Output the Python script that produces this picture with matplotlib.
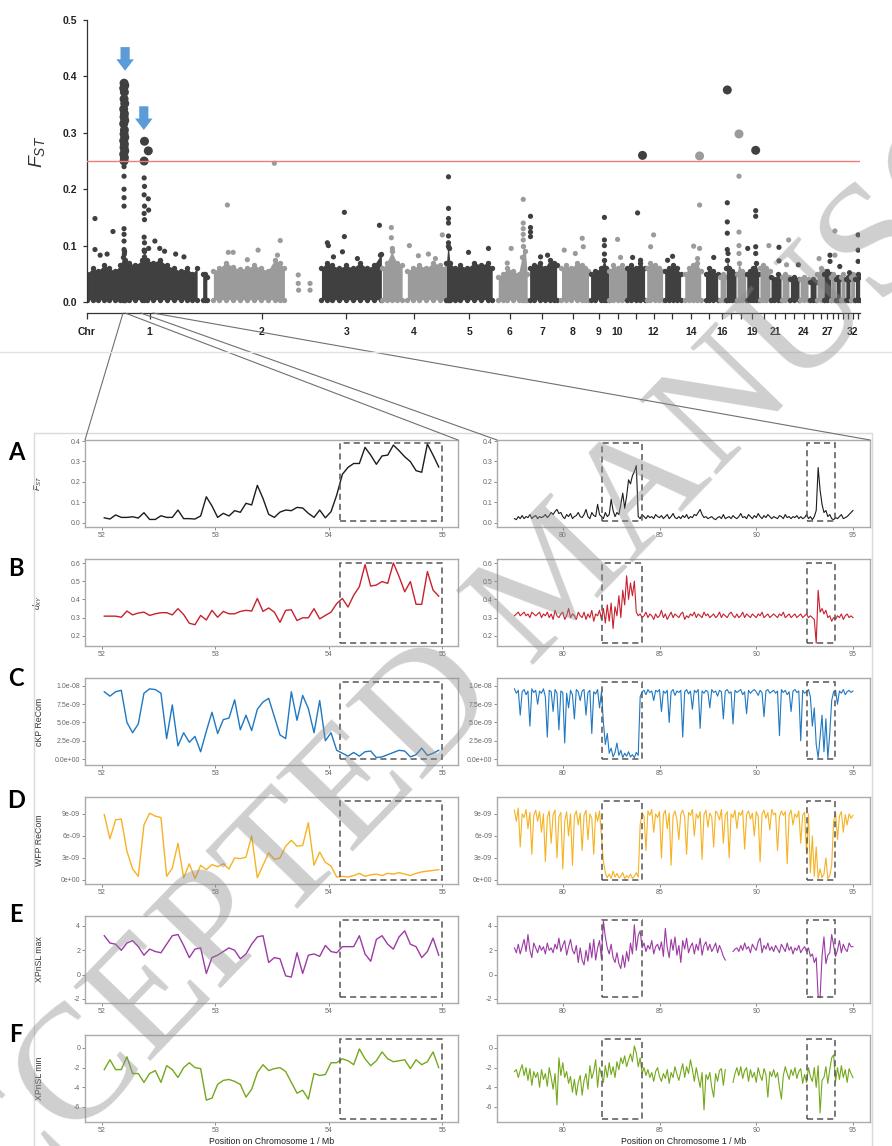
"""Genome-wide FST scan with zoomed chromosome-1 windows (panels A-F)."""

import matplotlib
matplotlib.use("Agg")
import matplotlib.pyplot as plt
from matplotlib.lines import Line2D
from matplotlib.patches import ConnectionPatch, Rectangle

nan = float("nan")
W, H = 892, 1146

plt.rcParams["font.family"] = ["Liberation Sans", "DejaVu Sans"]
plt.rcParams["mathtext.fontset"] = "custom"
plt.rcParams["mathtext.it"] = "Liberation Sans:italic"
plt.rcParams["mathtext.rm"] = "Liberation Sans"

# ---------------- genome-wide scan ----------------
CHROM_LEN_MB = [181, 143, 101, 94, 66, 51, 43, 45, 29, 26, 26, 26, 26, 29, 25,
                12, 14, 14, 19, 16, 16, 12, 14, 13, 13, 10, 10, 7, 7, 7, 7, 7, 7]
CHROM_LABELS_SHOWN = [1, 2, 3, 4, 5, 6, 7, 8, 9, 10, 12, 14, 16, 19, 21, 24, 27, 32]
FST_THRESHOLD = 0.25

# dense background SNP cloud: (chromosome, positions in Mb, upper edge of cloud)
BAND_SEGMENTS = [
    (1, [0, 8, 16, 24, 32, 40, 48, 52, 53.5, 55, 60, 70, 80, 83, 86, 95, 105, 115, 125, 135, 145, 152, 159],
        [0.05, 0.06, 0.055, 0.065, 0.06, 0.055, 0.065, 0.08, 0.09, 0.075, 0.07, 0.065, 0.075, 0.09, 0.075,
         0.07, 0.075, 0.065, 0.06, 0.055, 0.06, 0.05, 0.06]),
    (1, [167, 170, 173], [0.05, 0.05, 0.045]),
    (2, [1.5, 10, 20, 30, 40, 50, 60, 70, 80, 90, 97, 104],
        [0.055, 0.06, 0.07, 0.062, 0.058, 0.06, 0.065, 0.06, 0.055, 0.075, 0.07, 0.06]),
    (3, [14.5, 22, 30, 40, 50, 60, 70, 80, 90, 101],
        [0.06, 0.07, 0.065, 0.06, 0.065, 0.06, 0.07, 0.06, 0.065, 0.085]),
    (4, [1.5, 8, 15, 22, 30], [0.06, 0.07, 0.09, 0.07, 0.065]),
    (4, [37.5, 45, 55, 65, 75, 85, 94], [0.055, 0.06, 0.065, 0.06, 0.07, 0.065, 0.06]),
    (5, [0, 2, 3, 5, 12, 20, 30, 40, 50, 60, 66],
        [0.07, 0.1, 0.095, 0.07, 0.06, 0.065, 0.06, 0.07, 0.065, 0.07, 0.06]),
    (6, [8.7, 15, 22, 30, 38, 43, 45, 48, 50.5], [0.045, 0.05, 0.06, 0.055, 0.05, 0.08, 0.1, 0.09, 0.05]),
    (7, [3, 10, 18, 25, 32, 38, 42], [0.06, 0.065, 0.07, 0.06, 0.075, 0.07, 0.065]),
    (8, [6, 12, 20, 28, 35, 40, 45], [0.06, 0.065, 0.06, 0.07, 0.065, 0.06, 0.055]),
    (9, [3, 10, 18, 23, 26, 29], [0.05, 0.055, 0.06, 0.075, 0.06, 0.055]),
    (10, [0, 7, 14, 20, 26], [0.055, 0.065, 0.06, 0.065, 0.055]),
    (11, [0, 7, 13, 20, 26], [0.06, 0.065, 0.06, 0.07, 0.06]),
    (12, [3, 8, 15, 21, 26], [0.06, 0.07, 0.065, 0.06, 0.055]),
    (13, [3, 9, 15, 21, 26], [0.055, 0.06, 0.065, 0.06, 0.05]),
    (14, [6, 12, 18, 24, 29], [0.05, 0.06, 0.065, 0.07, 0.055]),
    (15, [7, 12, 18, 24.5], [0.05, 0.06, 0.055, 0.05]),
    (16, [3, 7, 11.5], [0.045, 0.05, 0.045]),
    (17, [0, 1.5, 4, 8, 14], [0.06, 0.075, 0.06, 0.055, 0.05]),
    (18, [1.5, 4.3, 8, 14], [0.05, 0.07, 0.055, 0.05]),
    (19, [1.5, 6, 11, 14.4, 18.8], [0.05, 0.055, 0.06, 0.07, 0.05]),
    (20, [1.5, 6, 11, 16], [0.06, 0.065, 0.06, 0.055]),
    (21, [1.5, 6, 11, 16], [0.045, 0.04, 0.05, 0.045]),
    (22, [1.5, 6, 11.5], [0.045, 0.05, 0.045]),
    (23, [1.5, 7, 14], [0.04, 0.045, 0.04]),
    (24, [1.5, 7, 13], [0.04, 0.045, 0.04]),
    (25, [3, 7, 11.5], [0.035, 0.04, 0.035]),
    (26, [0, 5, 10], [0.05, 0.06, 0.055]),
    (27, [0, 5, 10], [0.05, 0.055, 0.05]),
    (28, [0.5, 3.5, 6.5], [0.045, 0.05, 0.045]),
    (29, [0.5, 3.5, 6.5], [0.04, 0.045, 0.04]),
    (30, [0.5, 3.5, 6.5], [0.045, 0.05, 0.04]),
    (31, [0.5, 3.5, 6.5], [0.04, 0.045, 0.04]),
    (32, [0.5, 3.5, 6.5], [0.045, 0.05, 0.045]),
    (33, [0.5, 3.5, 6.5], [0.04, 0.05, 0.045]),
]
BAND_FLOOR = 0.004

# SNPs standing out of the cloud
OUT_CHR = ([1] * 5 + [1] * 21 + [1] * 10 + [1] * 12 + [1] * 4 + [1] * 5
           + [2] * 13 + [3] * 9 + [4] * 8 + [5] * 8 + [6] * 7 + [7] * 6 + [8] * 4 + [9] * 4
           + [10] * 2 + [11] * 4 + [12] * 2 + [13] * 2 + [14] * 5 + [15]
           + [17] * 6 + [18] * 5 + [19] * 6 + [20] + [21] * 2 + [22] * 2 + [23] + [26]
           + [27] * 2 + [28] * 2 + [29] + [31] + [33] * 3)
OUT_POS = ([11.5, 11.5, 19, 29, 37.5]
           + [53.5, 54.5, 53.0, 54.0, 53.5, 54.5, 53.0, 54.0, 53.5, 54.5, 53.0, 54.0, 53.5, 54.5,
              53.0, 54.0, 53.5, 54.5, 53.0, 54.0, 53.5]
           + [53.5, 53.5, 53.5, 53.5, 53.5, 53.5, 53.5, 53.5, 53.5, 54.0]
           + [83.0, 82.5, 82.5, 83.0, 82.5, 83.0, 82.5, 83.0, 82.5, 83.0, 82.5, 83.0]
           + [88.5, 88.5, 89, 89]
           + [98, 105, 112, 128, 140]
           + [21.7, 89.5, 98, 66, 23, 30, 94, 50.5, 124, 124, 124.5, 141, 141]
           + [23, 24.5, 47.6, 47.6, 44.8, 31.8, 66.4, 98.2, 99.6]
           + [14.4, 14.4, 15.9, 40.4, 53.4, 67.9, 78, 88]
           + [2.9, 2.9, 2.9, 2.9, 2.9, 2.9, 31.8, 60.6]
           + [44.8, 44.8, 44.8, 44.8, 44.8, 27.4, 21.7]
           + [4.3, 4.3, 4.3, 4.3, 28.9, 18.8]
           + [36, 37.5, 10, 26]
           + [23, 23, 23, 23]
           + [13, 17.3]
           + [15.9, 23, 8.7, 20.2]
           + [13, 8.7]
           + [14.4, 7.2]
           + [27.4, 27.4, 18.8, 27.4, 24.5]
           + [18.8]
           + [1.4, 1.4, 1.4, 1.4, 1.4, 2.5]
           + [4.3, 4.3, 4.3, 4.3, 4.3]
           + [14.4, 14.4, 14.4, 14.4, 14.4, 2.9]
           + [14.4]
           + [13, 13]
           + [11, 8]
           + [13]
           + [2.9]
           + [8.7, 8.7]
           + [5.8, 5.8]
           + [5.8]
           + [5.8]
           + [4.3, 4.3, 4.3])
OUT_FST = ([0.148, 0.093, 0.083, 0.085, 0.125]
           + [0.388, 0.384, 0.379, 0.372, 0.36, 0.352, 0.342, 0.334, 0.328, 0.322, 0.316, 0.305, 0.298,
              0.292, 0.286, 0.28, 0.274, 0.268, 0.262, 0.256, 0.25]
           + [0.24, 0.223, 0.2, 0.185, 0.17, 0.13, 0.12, 0.108, 0.093, 0.085]
           + [0.285, 0.25, 0.22, 0.205, 0.19, 0.17, 0.157, 0.146, 0.115, 0.105, 0.092, 0.08]
           + [0.268, 0.183, 0.163, 0.095]
           + [0.108, 0.095, 0.09, 0.085, 0.08]
           + [0.172, 0.246, 0.109, 0.092, 0.088, 0.088, 0.083, 0.075, 0.048, 0.033, 0.021, 0.033, 0.021]
           + [0.105, 0.1, 0.159, 0.116, 0.089, 0.08, 0.077, 0.136, 0.083]
           + [0.132, 0.114, 0.095, 0.1, 0.082, 0.085, 0.077, 0.119]
           + [0.222, 0.166, 0.148, 0.14, 0.117, 0.105, 0.088, 0.095]
           + [0.182, 0.14, 0.13, 0.12, 0.11, 0.095, 0.069]
           + [0.152, 0.132, 0.124, 0.116, 0.083, 0.08]
           + [0.113, 0.098, 0.092, 0.086]
           + [0.15, 0.11, 0.1, 0.085]
           + [0.111, 0.079]
           + [0.158, 0.26, 0.079, 0.074]
           + [0.119, 0.098]
           + [0.081, 0.074]
           + [0.259, 0.172, 0.099, 0.095, 0.077]
           + [0.079]
           + [0.376, 0.176, 0.142, 0.122, 0.093, 0.086]
           + [0.298, 0.223, 0.124, 0.1, 0.086]
           + [0.269, 0.162, 0.152, 0.098, 0.086, 0.095]
           + [0.1]
           + [0.097, 0.073]
           + [0.11, 0.066]
           + [0.066]
           + [0.077]
           + [0.083, 0.072]
           + [0.126, 0.083]
           + [0.063]
           + [0.052]
           + [0.119, 0.092, 0.072])

# blue arrows above the two chromosome-1 peaks (chr1 Mb, arrow top, arrow tip)
ARROW_POS = [55, 82]
ARROW_TOP = [0.452, 0.347]
ARROW_TIP = [0.41, 0.305]

# ---------------- zoomed windows on chromosome 1 ----------------
LEFT_MB = [52.02, 52.07, 52.12, 52.17, 52.22, 52.27, 52.32, 52.37, 52.42, 52.47,
           52.52, 52.57, 52.62, 52.67, 52.72, 52.77, 52.82, 52.87, 52.92, 52.97,
           53.02, 53.07, 53.12, 53.17, 53.22, 53.27, 53.32, 53.37, 53.42, 53.47,
           53.52, 53.57, 53.62, 53.67, 53.72, 53.77, 53.82, 53.87, 53.92, 53.97,
           54.02, 54.07, 54.12, 54.17, 54.22, 54.27, 54.32, 54.37, 54.42, 54.47,
           54.52, 54.57, 54.62, 54.67, 54.72, 54.77, 54.82, 54.87, 54.92, 54.97]

RIGHT_MB = [77.5, 77.6, 77.7, 77.8, 77.9,
            78.0, 78.1, 78.2, 78.3, 78.4, 78.5, 78.6, 78.7, 78.8, 78.9,
            79.0, 79.1, 79.2, 79.3, 79.4, 79.5, 79.6, 79.7, 79.8, 79.9,
            80.0, 80.1, 80.2, 80.3, 80.4, 80.5, 80.6, 80.7, 80.8, 80.9,
            81.0, 81.1, 81.2, 81.3, 81.4, 81.5, 81.6, 81.7, 81.8, 81.9,
            82.0, 82.1, 82.2, 82.3, 82.4, 82.5, 82.6, 82.7, 82.8, 82.9,
            83.0, 83.1, 83.2, 83.3, 83.4, 83.5, 83.6, 83.7, 83.8, 83.9,
            84.0, 84.1, 84.2, 84.3, 84.4, 84.5, 84.6, 84.7, 84.8, 84.9,
            85.0, 85.1, 85.2, 85.3, 85.4, 85.5, 85.6, 85.7, 85.8, 85.9,
            86.0, 86.1, 86.2, 86.3, 86.4, 86.5, 86.6, 86.7, 86.8, 86.9,
            87.0, 87.1, 87.2, 87.3, 87.4, 87.5, 87.6, 87.7, 87.8, 87.9,
            88.0, 88.1, 88.2, 88.3, 88.4, 88.5, 88.6, 88.7, 88.8, 88.9,
            89.0, 89.1, 89.2, 89.3, 89.4, 89.5, 89.6, 89.7, 89.8, 89.9,
            90.0, 90.1, 90.2, 90.3, 90.4, 90.5, 90.6, 90.7, 90.8, 90.9,
            91.0, 91.1, 91.2, 91.3, 91.4, 91.5, 91.6, 91.7, 91.8, 91.9,
            92.0, 92.1, 92.2, 92.3, 92.4, 92.5, 92.6, 92.7, 92.8, 92.9,
            93.0, 93.1, 93.2, 93.3, 93.4, 93.5, 93.6, 93.7, 93.8, 93.9,
            94.0, 94.1, 94.2, 94.3, 94.4, 94.5, 94.6, 94.7, 94.8, 94.9,
            95.0]

FST_L = [0.024, 0.018, 0.038, 0.026, 0.026, 0.029, 0.023, 0.049, 0.016, 0.016,
         0.034, 0.026, 0.026, 0.062, 0.02, 0.02, 0.018, 0.033, 0.127, 0.082,
         0.026, 0.046, 0.033, 0.059, 0.051, 0.095, 0.087, 0.183, 0.119, 0.041,
         0.026, 0.052, 0.062, 0.059, 0.075, 0.072, 0.046, 0.026, 0.062, 0.024,
         0.054, 0.135, 0.237, 0.271, 0.29, 0.29, 0.369, 0.331, 0.286, 0.327,
         0.331, 0.38, 0.353, 0.323, 0.299, 0.255, 0.247, 0.385, 0.331, 0.273]
FST_R = [0.02, 0.015, 0.03, 0.02, 0.035,
         0.02, 0.03, 0.025, 0.04, 0.02, 0.03, 0.035, 0.02, 0.03, 0.025,
         0.03, 0.04, 0.025, 0.035, 0.05, 0.04, 0.055, 0.065, 0.045, 0.05,
         0.03, 0.02, 0.04, 0.03, 0.045, 0.02, 0.03, 0.035, 0.05, 0.03,
         0.025, 0.04, 0.065, 0.03, 0.02, 0.05, 0.035, 0.03, 0.09, 0.04,
         0.03, 0.02, 0.05, 0.03, 0.04, 0.115, 0.06, 0.03, 0.05, 0.04,
         0.09, 0.145, 0.07, 0.13, 0.21, 0.19, 0.23, 0.25, 0.28, 0.03,
         0.02, 0.04, 0.03, 0.02, 0.035, 0.025, 0.03, 0.02, 0.04, 0.03,
         0.025, 0.035, 0.02, 0.03, 0.04, 0.02, 0.03, 0.045, 0.025, 0.02,
         0.03, 0.02, 0.035, 0.025, 0.04, 0.02, 0.03, 0.025, 0.04, 0.035,
         0.05, 0.065, 0.04, 0.025, 0.03, 0.02, 0.025, 0.03, 0.02, 0.015,
         0.025, 0.03, 0.02, 0.04, 0.02, 0.025, 0.03, 0.02, 0.035, 0.025,
         0.02, 0.03, 0.045, 0.025, 0.03, 0.02, 0.04, 0.03, 0.02, 0.035,
         0.025, 0.045, 0.03, 0.02, 0.035, 0.025, 0.04, 0.03, 0.02, 0.03,
         0.025, 0.02, 0.035, 0.03, 0.02, 0.04, 0.025, 0.03, 0.02, 0.03,
         0.025, 0.035, 0.02, 0.03, 0.02, 0.025, 0.04, 0.02, 0.03, 0.015,
         0.03, 0.06, 0.27, 0.16, 0.09, 0.05, 0.06, 0.03, 0.04, 0.02,
         0.015, 0.025, 0.02, 0.03, 0.04, 0.02, 0.025, 0.03, 0.04, 0.05,
         0.06]

DXY_L = [0.308, 0.308, 0.308, 0.302, 0.336, 0.315, 0.325, 0.33, 0.312, 0.321,
         0.327, 0.327, 0.315, 0.349, 0.317, 0.269, 0.261, 0.312, 0.287, 0.34,
         0.302, 0.334, 0.321, 0.321, 0.334, 0.34, 0.336, 0.405, 0.334, 0.353,
         0.33, 0.274, 0.34, 0.343, 0.284, 0.299, 0.299, 0.349, 0.293, 0.312,
         0.33, 0.377, 0.405, 0.358, 0.423, 0.47, 0.591, 0.473, 0.479, 0.498,
         0.488, 0.6, 0.526, 0.442, 0.498, 0.373, 0.373, 0.553, 0.451, 0.418]
DXY_R = [0.31, 0.32, 0.33, 0.31, 0.32,
         0.33, 0.31, 0.32, 0.30, 0.33, 0.32, 0.31, 0.32, 0.33, 0.30,
         0.32, 0.31, 0.33, 0.30, 0.32, 0.29, 0.34, 0.31, 0.30, 0.32,
         0.33, 0.29, 0.31, 0.35, 0.30, 0.32, 0.31, 0.29, 0.33, 0.31,
         0.30, 0.33, 0.29, 0.32, 0.30, 0.34, 0.28, 0.32, 0.31, 0.34,
         0.29, 0.35, 0.27, 0.37, 0.28, 0.38, 0.24, 0.36, 0.31, 0.42,
         0.30, 0.45, 0.37, 0.53, 0.40, 0.49, 0.42, 0.50, 0.33, 0.31,
         0.32, 0.30, 0.31, 0.33, 0.30, 0.32, 0.31, 0.29, 0.32, 0.30,
         0.31, 0.34, 0.30, 0.32, 0.29, 0.31, 0.33, 0.30, 0.32, 0.31,
         0.30, 0.32, 0.33, 0.29, 0.31, 0.30, 0.32, 0.31, 0.33, 0.30,
         0.32, 0.31, 0.30, 0.33, 0.31, 0.32, 0.30, 0.31, 0.32, 0.30,
         0.31, 0.33, 0.30, 0.32, 0.31, 0.30, 0.32, 0.33, 0.31, 0.30,
         0.32, 0.30, 0.31, 0.33, 0.30, 0.32, 0.31, 0.30, 0.32, 0.31,
         0.30, 0.32, 0.31, 0.33, 0.30, 0.31, 0.32, 0.30, 0.31, 0.32,
         0.31, 0.30, 0.32, 0.31, 0.33, 0.30, 0.31, 0.32, 0.30, 0.31,
         0.32, 0.30, 0.31, 0.32, 0.30, 0.31, 0.32, 0.30, 0.31, 0.30,
         0.29, 0.16, 0.45, 0.33, 0.35, 0.32, 0.34, 0.30, 0.31, 0.28,
         0.30, 0.29, 0.31, 0.30, 0.32, 0.29, 0.31, 0.32, 0.30, 0.31,
         0.30]

# recombination rates, in units of 1e-9
CKP_L = [9.2, 8.6, 9.2, 9.4, 5.0, 3.6, 4.8, 9.0, 9.6, 9.5,
         9.0, 2.8, 7.4, 1.8, 3.6, 2.3, 3.1, 1.0, 3.8, 6.4,
         3.5, 5.4, 5.6, 8.1, 4.0, 6.0, 3.9, 6.8, 7.8, 8.3,
         5.8, 3.3, 2.8, 9.2, 5.3, 8.7, 6.9, 3.6, 8.0, 2.5,
         3.6, 1.2, 0.8, 0.4, 0.9, 0.4, 1.0, 1.1, 0.2, 0.3,
         0.6, 0.9, 1.2, 1.1, 0.3, 0.6, 1.5, 0.5, 0.8, 1.2]
CKP_R = [9.6, 9.0, 9.4, 6.0, 9.2,
         9.5, 8.8, 9.3, 4.5, 9.6, 9.1, 9.4, 7.5, 9.3, 9.0,
         9.6, 8.5, 3.0, 9.4, 9.2, 6.5, 9.5, 9.0, 4.0, 9.3,
         9.1, 2.2, 9.0, 7.0, 9.4, 8.8, 5.5, 9.5, 9.2, 8.0,
         9.3, 9.5, 6.0, 9.1, 9.4, 3.5, 9.2, 8.9, 9.5, 7.0,
         9.2, 5.0, 2.0, 3.5, 0.8, 1.5, 0.3, 0.9, 2.2, 0.5,
         1.2, 0.2, 0.8, 0.4, 1.0, 0.3, 0.6, 0.2, 0.9, 0.5,
         8.5, 9.2, 9.4, 8.8, 9.5, 9.1, 9.3, 8.0, 9.4, 9.2,
         9.5, 6.5, 9.3, 9.0, 9.4, 5.0, 9.2, 9.5, 8.7, 9.3,
         9.1, 9.4, 3.0, 9.2, 9.5, 8.9, 9.3, 6.8, 9.4, 9.1,
         9.5, 4.2, 9.3, 9.0, 9.4, 9.2, 7.0, 9.5, 9.1, 9.3,
         8.6, 9.4, 9.2, 5.5, 9.3, 9.5, 9.0, 9.2, 4.8, 9.4,
         9.1, 9.3, 9.5, 8.8, 9.2, 6.2, 9.4, 9.0, 9.3, 9.5,
         9.2, 8.7, 9.4, 9.1, 5.8, 9.3, 9.5, 9.0, 9.2, 9.4,
         9.0, 9.3, 3.2, 9.5, 9.1, 9.4, 8.8, 9.2, 6.5, 9.3,
         9.5, 9.1, 9.3, 2.5, 9.4, 9.0, 9.2, 9.5, 8.5, 4.5,
         7.0, 2.0, 0.2, 3.0, 6.0, 1.0, 5.5, 0.1, 3.5, 8.0,
         9.2, 9.4, 7.5, 9.3, 9.0, 9.5, 8.8, 9.2, 9.4, 9.1,
         9.3]

WFP_L = [8.9, 5.6, 8.2, 8.3, 3.9, 1.5, 0.5, 7.5, 9.1, 8.7,
         8.5, 0.5, 1.6, 5.0, 0.3, 2.2, 0.2, 2.0, 1.4, 2.1,
         1.8, 2.2, 1.5, 3.0, 2.9, 3.1, 6.0, 0.3, 2.0, 3.7,
         2.8, 3.0, 4.6, 5.4, 4.6, 4.7, 7.8, 2.0, 3.8, 2.4,
         1.9, 0.4, 0.5, 0.4, 0.6, 0.9, 0.5, 0.7, 0.8, 0.6,
         0.9, 0.8, 1.0, 0.8, 0.6, 0.9, 1.1, 1.2, 1.3, 1.4]
WFP_R = [9.5, 8.0, 9.8, 4.5, 9.0,
         8.5, 9.6, 7.0, 9.2, 3.5, 8.8, 9.5, 8.0, 9.3, 6.5,
         9.0, 2.5, 8.5, 9.4, 5.0, 8.9, 9.5, 3.0, 8.6, 9.2,
         1.5, 8.0, 9.3, 6.0, 9.0, 2.0, 8.7, 9.4, 7.5, 9.1,
         4.0, 8.8, 9.5, 5.5, 9.0, 8.4, 3.5, 9.2, 8.0, 9.4,
         6.0, 2.5, 1.0, 0.3, 0.8, 0.2, 1.2, 0.4, 0.9, 0.3,
         0.5, 1.0, 0.2, 0.6, 0.3, 0.8, 0.2, 0.5, 1.0, 0.4,
         7.5, 9.2, 8.6, 4.0, 9.4, 8.8, 9.6, 6.5, 9.0, 8.5,
         9.3, 3.0, 8.9, 9.5, 7.0, 9.1, 2.0, 8.7, 9.4, 8.2,
         5.5, 9.0, 9.5, 8.6, 3.5, 9.2, 8.8, 9.6, 6.0, 9.0,
         8.4, 9.3, 2.8, 8.9, 9.5, 7.2, 9.1, 8.6, 4.5, 9.4,
         9.0, 8.2, 9.6, 5.0, 8.8, 9.3, 3.0, 9.0, 8.5, 9.5,
         7.0, 9.2, 8.8, 9.5, 4.2, 8.9, 9.4, 8.3, 9.1, 6.0,
         9.3, 8.7, 2.5, 9.0, 9.5, 8.4, 9.2, 6.8, 9.6, 8.9,
         9.1, 4.0, 8.6, 9.4, 8.8, 9.3, 2.2, 8.9, 9.5, 7.5,
         9.0, 8.5, 9.4, 5.0, 8.8, 9.2, 3.5, 9.0, 1.0, 6.0,
         0.5, 4.5, 0.2, 1.5, 0.3, 0.8, 3.0, 0.2, 0.6, 2.0,
         8.0, 9.1, 5.5, 8.7, 9.3, 6.5, 8.9, 7.5, 9.0, 8.4,
         8.8]

XPMAX_L = [3.2, 2.6, 2.5, 2.0, 2.6, 2.8, 2.3, 1.6, 2.1, 1.9,
           1.8, 2.5, 3.2, 3.3, 2.4, 1.4, 2.1, 2.2, 0.1, 1.4,
           1.6, 1.9, 2.2, 2.0, 1.3, 1.7, 2.5, 3.1, 3.2, 1.0,
           1.4, 1.3, -0.1, -0.2, 1.8, 0.1, 1.6, 1.7, 1.5, 2.4,
           1.9, 1.8, 2.3, 2.3, 2.3, 3.2, 1.7, 1.1, 2.9, 3.2,
           2.5, 2.1, 3.1, 3.6, 2.5, 2.3, 1.4, 1.9, 3.0, 1.6]
XPMAX_R = [2.2, 1.8, 2.5, 1.7, 2.3,
           2.9, 1.9, 3.3, 2.0, 1.4, 2.6, 2.2, 1.8, 2.4, 2.0,
           2.3, 1.7, 2.6, 2.0, 2.2, 1.8, 2.5, 2.1, 3.0, 1.9,
           2.4, 2.8, 1.6, 2.3, 2.9, 2.0, 1.7, 2.4, 1.0, 2.2,
           1.2, 0.8, 2.0, 1.1, 2.6, 1.4, 2.9, 1.2, 2.2, 2.8,
           1.3, 4.4, 3.1, 2.2, 1.7, 2.5, 1.4, 1.0, 1.8, 0.9,
           0.5, 1.6, 0.6, 1.9, 1.1, 2.6, 1.7, 4.1, 2.0, 3.2,
           3.6, 2.2, 2.6, 1.9, 2.4, 2.1, 2.8, 1.7, 2.3, 2.5,
           2.0, 2.7, 1.5, 3.8, 2.2, 1.4, 2.9, 2.0, 3.1, 1.6,
           2.4, 1.0, 2.8, 2.1, 3.0, 1.8, 2.3, 2.6, 1.7, 2.5,
           2.0, 3.0, 1.6, 2.4, 2.7, 2.0, 2.5, 1.9, 2.2, 2.6,
           1.8, 2.4, 2.0, 1.5, 1.2, nan, nan, nan, 1.9, 2.1,
           2.2, 1.9, 2.4, 2.0, 2.6, 2.1, 2.3, 1.8, 2.5, 2.2,
           2.0, 2.7, 3.0, 1.8, 2.4, 2.1, 2.6, 2.0, 2.3, 1.9,
           2.4, 2.1, 1.8, 2.5, 2.2, 1.9, 2.6, 2.0, 2.3, 1.7,
           2.2, 2.0, 2.4, 1.8, 2.1, 2.3, 1.9, 2.2, 1.5, 1.7,
           1.0, 1.4, -1.8, -1.9, 1.5, 3.1, 0.9, 1.6, 1.8, 3.3,
           2.4, 1.5, 2.0, 2.8, 1.8, 2.5, 2.1, 1.9, 2.6, 2.3,
           2.3]

XPMIN_L = [-2.2, -1.2, -2.2, -2.2, -0.9, -2.6, -2.6, -3.5, -2.6, -2.3,
           -3.5, -1.8, -2.2, -3.0, -2.0, -1.5, -2.0, -2.1, -5.3, -5.1,
           -3.7, -3.3, -3.2, -3.4, -3.7, -5.0, -4.2, -2.5, -1.7, -2.3,
           -2.1, -2.0, -2.4, -3.5, -4.6, -4.3, -5.2, -2.6, -2.8, -2.7,
           -1.5, -1.5, -1.1, -1.3, -1.7, -0.1, -1.1, -1.8, -1.3, -0.4,
           -1.1, -1.4, -1.3, -1.2, -2.1, -1.2, -1.7, -1.4, -0.4, -2.0]
XPMIN_R = [-2.4, -2.2, -3.0, -2.3, -1.7,
           -2.8, -2.0, -3.3, -2.1, -3.8, -2.4, -3.0, -2.5, -4.0, -2.2,
           -3.2, -2.6, -3.9, -2.0, -3.0, -4.2, -2.6, -5.8, -1.0, -2.8,
           -1.5, -3.0, -2.4, -3.6, -2.9, -4.5, -3.2, -4.8, -3.5, -2.8,
           -4.8, -3.3, -2.6, -4.2, -1.8, -3.1, -2.4, -1.2, -4.0, -2.0,
           -2.8, -3.5, -1.8, -3.0, -1.5, -2.7, -1.9, -3.0, -1.4, -2.2,
           -1.0, -1.6, -0.8, -1.9, -1.2, -0.6, -1.4, 0.2, -0.5, -1.9,
           -1.0, -2.6, -2.0, -2.8, -2.2, -3.0, -2.5, -3.4, -2.4, -2.0,
           -2.9, -3.4, -2.6, -3.1, -2.2, -3.6, -2.5, -3.0, -1.9, -2.7,
           -3.3, -2.4, -1.6, -3.0, -1.9, -2.6, -1.2, -2.2, -3.4, -2.0,
           -3.0, -4.0, -2.5, -6.3, -2.7, -3.2, -2.5, -4.0, -5.0, -2.6,
           -3.4, -2.3, -2.1, -3.8, -2.2, nan, nan, nan, -3.5, -2.6,
           -2.0, -2.8, -1.9, -3.1, -2.3, -2.0, -3.4, -2.2, -3.0, -2.5,
           -3.5, -2.0, -2.8, -3.3, -2.1, -2.7, -5.0, -2.4, -2.9, -2.2,
           -3.0, -2.5, -4.0, -5.2, -2.8, -1.9, -2.6, -3.2, -2.2, -2.8,
           -2.0, -3.1, -2.4, -2.1, -3.6, -2.7, -3.5, -2.0, -2.9, -3.4,
           -2.0, -4.0, -1.8, -6.6, -3.3, -3.0, -1.9, -3.6, -2.2, -1.0,
           -0.7, -3.4, -2.0, -3.2, -1.8, -3.0, -2.2, -3.5, -2.1, -2.6,
           -3.0]

BOX_LEFT = [(54.1, 55.0)]
BOX_RIGHT = [(82.05, 84.1), (92.6, 94.05)]

ROW_SERIES = [(FST_L, FST_R), (DXY_L, DXY_R), (CKP_L, CKP_R),
              (WFP_L, WFP_R), (XPMAX_L, XPMAX_R), (XPMIN_L, XPMIN_R)]
ROW_LETTERS = ["A", "B", "C", "D", "E", "F"]
ROW_YLABELS = [r"$F_{ST}$", r"$d_{XY}$", "cKP ReCom", "WFP ReCom", "XPnSL max", "XPnSL min"]
ROW_COLORS = ["#1c1c1c", "#c8202e", "#1f78c1", "#f6b223", "#9c3aa5", "#74a81b"]
ROW_YLIM = [(-0.021, 0.405), (0.144, 0.622), (-0.81, 11.08),
            (-0.55, 11.3), (-2.33, 4.82), (-7.53, 1.32)]
ROW_BOX_Y = [(0.01, 0.39), (0.163, 0.6), (0.0, 10.6), (0.0, 10.8), (-1.86, 4.53), (-7.2, 0.87)]
ROW_YTICKS = [[0, 0.1, 0.2, 0.3, 0.4], [0.2, 0.3, 0.4, 0.5, 0.6], [0, 2.5, 5, 7.5, 10],
              [0, 3, 6, 9], [-2, 0, 2, 4], [-6, -4, -2, 0]]
ROW_YTICKLABELS = [["0.0", "0.1", "0.2", "0.3", "0.4"], ["0.2", "0.3", "0.4", "0.5", "0.6"],
                   ["0.0e+00", "2.5e-09", "5.0e-09", "7.5e-09", "1.0e-08"],
                   ["0e+00", "3e-09", "6e-09", "9e-09"], ["-2", "0", "2", "4"],
                   ["-6", "-4", "-2", "0"]]
LETTER_Y_PX = [453, 569, 678, 800, 914, 1034]
PANEL_TOP_PX = [440, 559, 678, 797, 916, 1035]
PANEL_H_PX = 87

DARK, LIGHT = "#404040", "#9b9b9b"


def px_axes(fig, x0, y0, x1, y1):
    return fig.add_axes([x0 / W, 1 - y1 / H, (x1 - x0) / W, (y1 - y0) / H])


fig = plt.figure(figsize=(W / 100, H / 100), dpi=100)

# ----- Manhattan plot -----
starts = [0]
for length in CHROM_LEN_MB[:-1]:
    starts.append(starts[-1] + length)
total = starts[-1] + CHROM_LEN_MB[-1]

ax_m = px_axes(fig, 87, 15, 860, 320)
ax_m.set_xlim(0, total)
ax_m.set_ylim(-0.0319, 0.5089)

for chrom, xs, tops in BAND_SEGMENTS:
    off = starts[chrom - 1]
    gx = [off + x for x in xs]
    col = DARK if chrom % 2 else LIGHT
    ax_m.fill_between(gx, BAND_FLOOR, tops, color=col, lw=0, zorder=2)
    ax_m.scatter(gx, tops, s=15, color=col, lw=0, zorder=2)
    ax_m.scatter(gx, [BAND_FLOOR] * len(gx), s=15, color=col, lw=0, zorder=2)

gx = [starts[c - 1] + p for c, p in zip(OUT_CHR, OUT_POS)]
cols = [DARK if c % 2 else LIGHT for c in OUT_CHR]
sizes = [42 if f >= FST_THRESHOLD else 14 for f in OUT_FST]
ax_m.scatter(gx, OUT_FST, s=sizes, c=cols, lw=0, zorder=3)

ax_m.axhline(FST_THRESHOLD, color="#f07b7b", lw=1.0, zorder=5)

for pos, top, tip in zip(ARROW_POS, ARROW_TOP, ARROW_TIP):
    ax_m.annotate("", xy=(pos, tip), xytext=(pos, top),
                  arrowprops=dict(arrowstyle="simple,head_length=0.75,head_width=1.15,tail_width=0.6",
                                  color="#5a9bd8", lw=0, shrinkA=0, shrinkB=0,
                                  mutation_scale=11), zorder=6)

for side in ("top", "right"):
    ax_m.spines[side].set_visible(False)
ax_m.spines["left"].set_bounds(0, 0.5)
ax_m.spines["bottom"].set_position(("data", -0.0195))
ax_m.spines["bottom"].set_bounds(0, total)
for side in ("left", "bottom"):
    ax_m.spines[side].set_color("#333333")
    ax_m.spines[side].set_linewidth(0.9)

ax_m.set_yticks([0, 0.1, 0.2, 0.3, 0.4, 0.5])
ax_m.set_yticklabels(["0.0", "0.1", "0.2", "0.3", "0.4", "0.5"])
tick_pos = [0] + [s + l / 2 for s, l in zip(starts, CHROM_LEN_MB)]
tick_lab = ["Chr"] + [str(i + 1) if (i + 1) in CHROM_LABELS_SHOWN else ""
                      for i in range(len(CHROM_LEN_MB))]
ax_m.set_xticks(tick_pos)
ax_m.set_xticklabels(tick_lab)
ax_m.tick_params(axis="y", length=3, width=0.9, color="#333333", pad=4,
                 labelsize=7.5, labelcolor="#222222")
ax_m.tick_params(axis="x", length=4.3, width=0.9, color="#333333", pad=6,
                 labelsize=7.5, labelcolor="#222222")
for lab in ax_m.get_xticklabels() + ax_m.get_yticklabels():
    lab.set_fontweight("bold")
ax_m.set_ylabel(r"$F_{ST}$", fontsize=14, color="#333333")
ax_m.yaxis.set_label_coords((47 - 87) / 773, (320 - 152) / 305)

# ----- frame and separator -----
fig.add_artist(Line2D([0, 1], [1 - 352 / H] * 2, transform=fig.transFigure,
                      color="#e2e2e2", lw=1.0))
fig.add_artist(Rectangle((34 / W, -0.01), (872 - 34) / W, (H - 433) / H + 0.01,
                         transform=fig.transFigure, fill=False, ec="#dadada", lw=1.0))

# ----- zoomed panels -----
axes_rows = []
for r in range(6):
    top = PANEL_TOP_PX[r]
    ax_l = px_axes(fig, 85, top, 458, top + PANEL_H_PX)
    ax_r = px_axes(fig, 497, top, 870, top + PANEL_H_PX)
    axes_rows.append((ax_l, ax_r))
    left_y, right_y = ROW_SERIES[r]
    for ax, xs, ys, xlim, xticks, boxes, lw in (
            (ax_l, LEFT_MB, left_y, (51.85, 55.14), [52, 53, 54, 55], BOX_LEFT, 1.0),
            (ax_r, RIGHT_MB, right_y, (76.6, 95.88), [80, 85, 90, 95], BOX_RIGHT, 0.8)):
        ax.plot(xs, ys, color=ROW_COLORS[r], lw=lw, zorder=3)
        y0, y1 = ROW_BOX_Y[r]
        for x0, x1 in boxes:
            ax.add_patch(Rectangle((x0, y0), x1 - x0, y1 - y0, fill=False, ec="#555555",
                                   lw=1.1, ls=(0, (4, 2.6)), zorder=4))
        ax.set_xlim(*xlim)
        ax.set_ylim(*ROW_YLIM[r])
        ax.set_xticks(xticks)
        ax.set_xticklabels([str(t) for t in xticks])
        ax.set_yticks(ROW_YTICKS[r])
        ax.set_yticklabels(ROW_YTICKLABELS[r])
        ax.tick_params(length=2, width=0.6, color="#777777", pad=1.5,
                       labelsize=5, labelcolor="#666666")
        for sp in ax.spines.values():
            sp.set_color("#ababab")
            sp.set_linewidth(1.0)
        if r == 5:
            ax.set_xlabel("Position on Chromosome 1 / Mb", fontsize=6.3,
                          color="#222222", labelpad=2)
    ax_l.set_ylabel(ROW_YLABELS[r], fontsize=6.3, color="#333333")
    ax_l.yaxis.set_label_coords((44 - 85) / 373, 0.5)
    fig.text(16 / W, 1 - LETTER_Y_PX[r] / H, ROW_LETTERS[r], fontsize=17,
             fontweight="bold", family=["Lato", "DejaVu Sans"], ha="center", va="center")

# ----- zoom connectors from chromosome 1 -----
ax_a_left, ax_a_right = axes_rows[0]
axis_y = -0.0195
for mb, target, corner in ((52.0, ax_a_left, (0, 1)), (55.0, ax_a_left, (1, 1)),
                           (77.5, ax_a_right, (0, 1)), (95.0, ax_a_right, (1, 1))):
    con = ConnectionPatch(xyA=(starts[0] + mb, axis_y), coordsA="data", axesA=ax_m,
                          xyB=corner, coordsB="axes fraction", axesB=target,
                          color="#707070", lw=0.8)
    fig.add_artist(con)

# ----- watermark -----
fig.text(0.628, 0.494, "ACCEPTED MANUSCRIPT", rotation=46, fontsize=118,
         family=["Liberation Serif", "DejaVu Serif"], color="#8c8c8c", alpha=0.42,
         ha="center", va="center", zorder=100)

fig.savefig("out.png", dpi=100)
plt.close(fig)
